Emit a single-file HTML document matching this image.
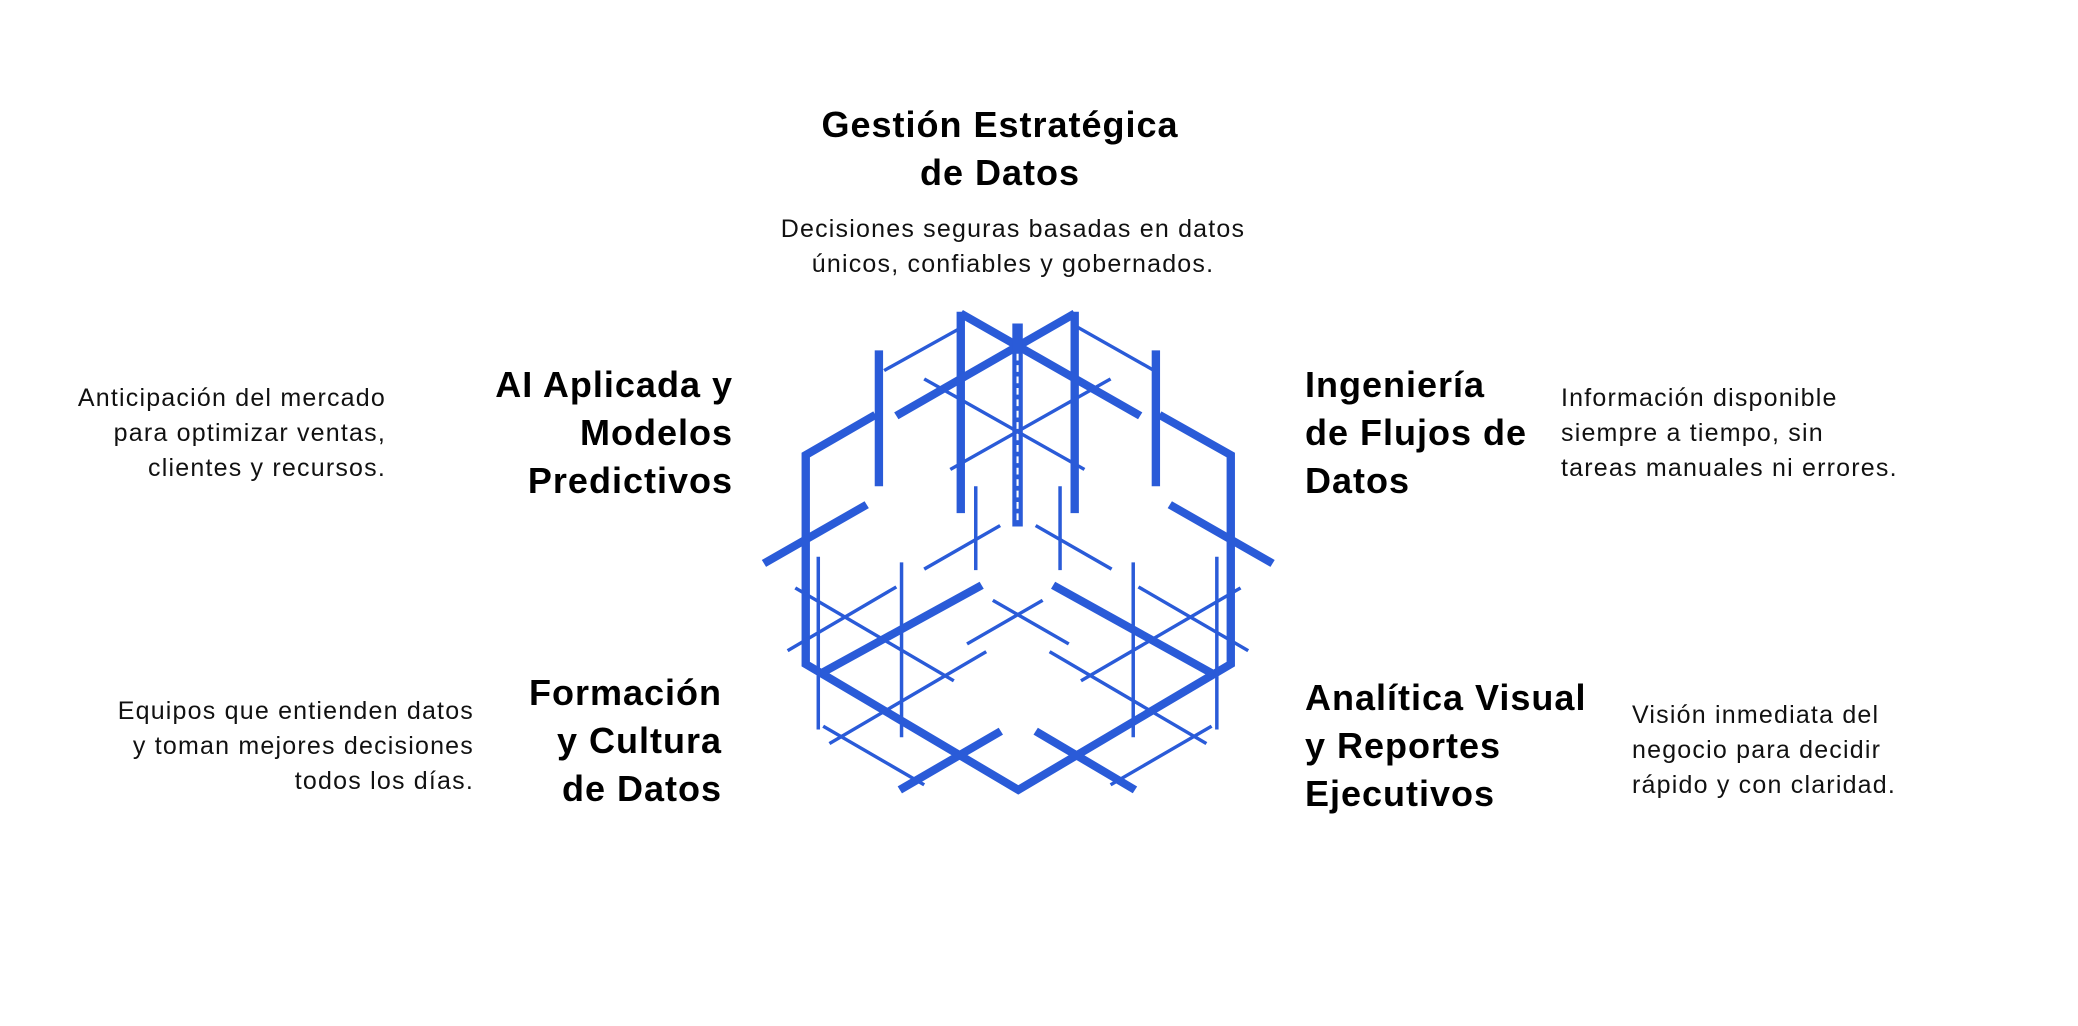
<!DOCTYPE html>
<html><head><meta charset="utf-8"><style>
body{margin:0;width:2078px;height:1026px;background:#fff;position:relative;overflow:hidden;font-family:"Liberation Sans",sans-serif;color:#000}
.t{position:absolute;font-weight:bold;font-size:36px;line-height:48px;white-space:nowrap;letter-spacing:1px}
.d{position:absolute;font-size:25px;line-height:35px;white-space:nowrap;color:#111;letter-spacing:1.2px}
.r{text-align:right}.c{text-align:center}
</style></head><body>
<div class="t c" style="left:700px;width:600px;top:101px">Gestión Estratégica<br>de Datos</div>
<div class="d c" style="left:713px;width:600px;top:212px">Decisiones seguras basadas en datos<br>únicos, confiables y gobernados.</div>

<div class="t r" style="left:333px;width:400px;top:361px">AI Aplicada y<br>Modelos<br>Predictivos</div>
<div class="d r" style="left:0;width:386px;top:381px">Anticipación del mercado<br>para optimizar ventas,<br>clientes y recursos.</div>

<div class="t" style="left:1305px;top:361px">Ingeniería<br>de Flujos de<br>Datos</div>
<div class="d" style="left:1561px;top:381px">Información disponible<br>siempre a tiempo, sin<br>tareas manuales ni errores.</div>

<div class="t r" style="left:322px;width:400px;top:669px">Formación<br>y Cultura<br>de Datos</div>
<div class="d r" style="left:0;width:474px;top:694px">Equipos que entienden datos<br>y toman mejores decisiones<br>todos los días.</div>

<div class="t" style="left:1305px;top:674px">Analítica Visual<br>y Reportes<br>Ejecutivos</div>
<div class="d" style="left:1632px;top:698px">Visión inmediata del<br>negocio para decidir<br>rápido y con claridad.</div>

<svg style="position:absolute;left:750px;top:290px" width="540" height="520" viewBox="0 0 1550 1550" preserveAspectRatio="none">
<g stroke="#2a5bd8" fill="none" stroke-linecap="butt">
<g stroke-width="24">
<polyline points="360,372 160,492 160,1115 770,1490 1380,1115 1380,492 1175,372"/>
<line x1="200" y1="1145" x2="665" y2="880"/>
<line x1="870" y1="880" x2="1330" y2="1145"/>
<line x1="605" y1="65" x2="605" y2="665"/>
<line x1="932" y1="65" x2="932" y2="665"/>
<line x1="605" y1="70" x2="1120" y2="375"/>
<line x1="932" y1="70" x2="420" y2="375"/>
<line x1="768" y1="100" x2="768" y2="705" stroke-width="30"/>
<line x1="370" y1="180" x2="370" y2="585"/>
<line x1="1165" y1="180" x2="1165" y2="585"/>
<line x1="40" y1="815" x2="335" y2="640"/>
<line x1="1205" y1="640" x2="1500" y2="815"/>
<line x1="430" y1="1490" x2="720" y2="1315"/>
<line x1="820" y1="1315" x2="1105" y2="1490"/>
</g>
<line x1="768" y1="190" x2="768" y2="700" stroke="#fff" stroke-width="6" stroke-dasharray="20 14"/>
<g stroke-width="10">
<line x1="385" y1="240" x2="610" y2="110"/>
<line x1="930" y1="105" x2="1160" y2="240"/>
<line x1="500" y1="265" x2="960" y2="535"/>
<line x1="1035" y1="265" x2="575" y2="535"/>
<line x1="648" y1="585" x2="648" y2="835"/>
<line x1="890" y1="585" x2="890" y2="835"/>
<line x1="500" y1="832" x2="718" y2="702"/>
<line x1="820" y1="702" x2="1038" y2="832"/>
<line x1="130" y1="888" x2="585" y2="1165"/>
<line x1="108" y1="1075" x2="420" y2="885"/>
<line x1="196" y1="795" x2="196" y2="1310"/>
<line x1="435" y1="812" x2="435" y2="1333"/>
<line x1="697" y1="925" x2="915" y2="1055"/>
<line x1="840" y1="925" x2="623" y2="1055"/>
<line x1="678" y1="1078" x2="228" y2="1352"/>
<line x1="860" y1="1078" x2="1310" y2="1352"/>
<line x1="210" y1="1300" x2="500" y2="1475"/>
<line x1="1325" y1="1300" x2="1035" y2="1475"/>
<line x1="1115" y1="885" x2="1430" y2="1075"/>
<line x1="1408" y1="888" x2="950" y2="1165"/>
<line x1="1100" y1="812" x2="1100" y2="1333"/>
<line x1="1340" y1="795" x2="1340" y2="1310"/>
</g>
</g>
</svg>
</body></html>
